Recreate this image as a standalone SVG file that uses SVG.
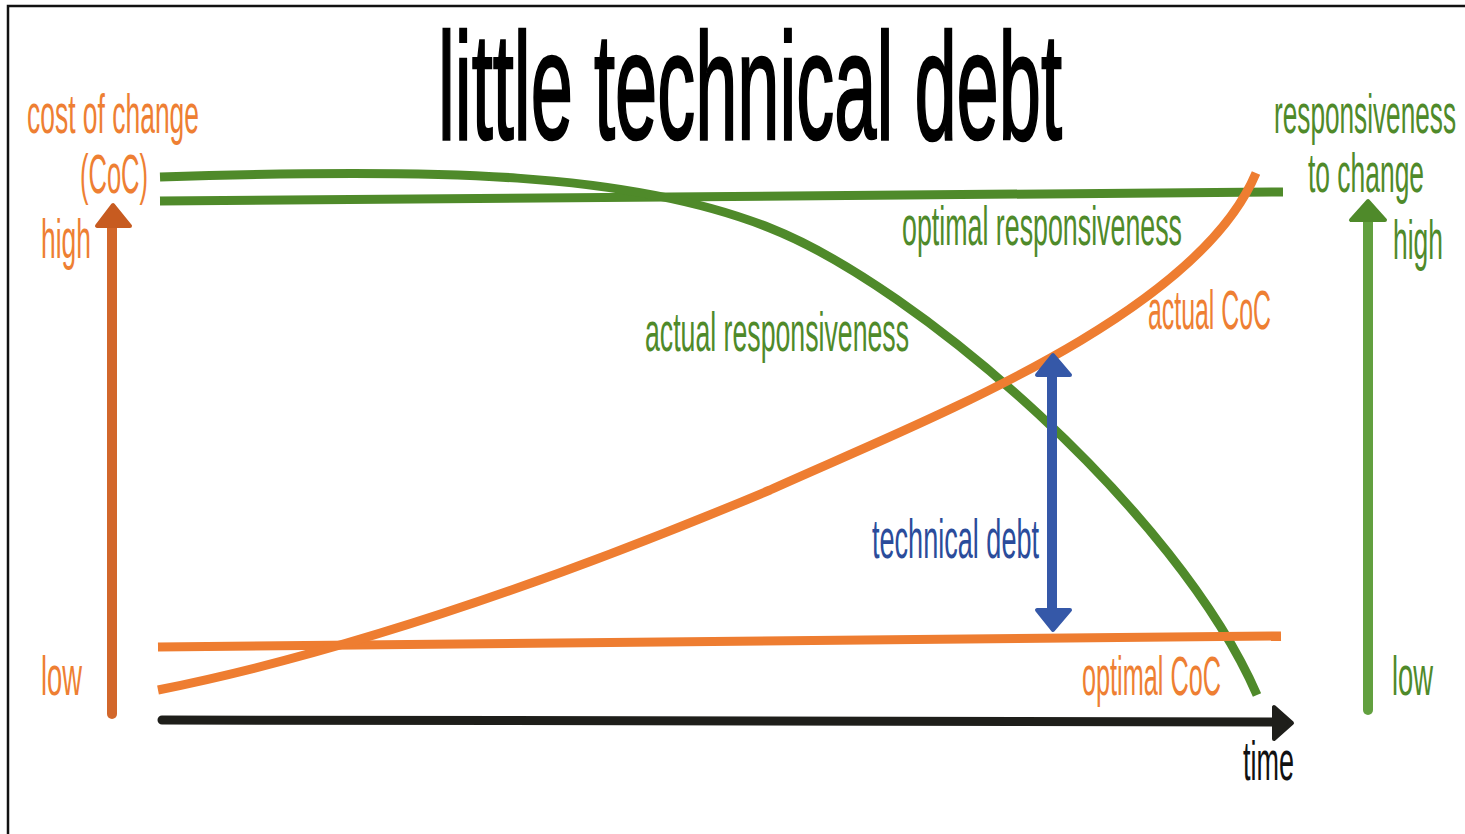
<svg xmlns="http://www.w3.org/2000/svg" width="1465" height="834" viewBox="0 0 1465 834">
<style>
  text { font-family: "Liberation Sans", Arial, sans-serif; font-size: 55px; }
  .title { font-size: 152px; fill: #000; stroke: #000; stroke-width: 2.5; }
  .or { fill: #EE7F33; }
  .gr { fill: #4F8A2A; }
  .bl { fill: #2B4C9B; }
  .bk { fill: #111; }
  .line { fill: none; stroke-width: 9; stroke-linecap: butt; }
  .oline { stroke: #EE7D31; }
  .gline { stroke: #4F8A2A; }
  .head { stroke-linejoin: round; stroke-width: 4; }
</style>
<rect x="0" y="0" width="1465" height="834" fill="#fff"/>
<path d="M8,840 L8,6 L1470,6" fill="none" stroke="#111" stroke-width="2.5"/>

<g id="title">
  <text class="title" x="438" y="139" textLength="624" lengthAdjust="spacingAndGlyphs">little technical debt</text>
</g>

<g id="connectors">
  <!-- optimal responsiveness -->
  <path class="line gline" d="M160,201 L1283,192"/>
  <!-- actual responsiveness -->
  <path class="line gline" d="M160,177 C440,168 630,172 770,228 C917,286 1177,511 1257,695"/>
  <!-- optimal CoC -->
  <path class="line oline" d="M158,647 L1281,636"/>
  <!-- actual CoC -->
  <path class="line oline" d="M158,690 C358,650 570,574 770,490 C920,422 1196,317 1256,173"/>
  <!-- time axis -->
  <path d="M162,720 L1276,722" fill="none" stroke="#1E1E1A" stroke-width="9" stroke-linecap="round"/>
  <polygon class="head" points="1292,723 1274,707 1274,739" fill="#1E1E1A" stroke="#1E1E1A"/>
  <!-- left CoC axis -->
  <path d="M112,714 L112,224" fill="none" stroke="#D2672B" stroke-width="10" stroke-linecap="round"/>
  <polygon class="head" points="113,205 97,226 130,226" fill="#C75B20" stroke="#C75B20"/>
  <!-- right responsiveness axis -->
  <path d="M1368,710 L1368,219" fill="none" stroke="#62A03F" stroke-width="10" stroke-linecap="round"/>
  <polygon class="head" points="1368,201 1351,220 1385,220" fill="#4F8A2A" stroke="#4F8A2A"/>
  <!-- technical debt double arrow -->
  <path d="M1052,372 L1052,612" fill="none" stroke="#3558A8" stroke-width="10"/>
  <polygon class="head" points="1053,355 1037,375 1070,375" fill="#3558A8" stroke="#3558A8"/>
  <polygon class="head" points="1053,630 1037,610 1070,610" fill="#3558A8" stroke="#3558A8"/>
</g>

<g id="coc-axis-label">
  <text class="or" x="27" y="133" textLength="172" lengthAdjust="spacingAndGlyphs">cost of change</text>
  <text class="or" x="80" y="193" textLength="68" lengthAdjust="spacingAndGlyphs">(CoC)</text>
</g>
<g id="coc-high"><text class="or" x="41" y="258" textLength="50" lengthAdjust="spacingAndGlyphs">high</text></g>
<g id="coc-low"><text class="or" x="41" y="695" textLength="41" lengthAdjust="spacingAndGlyphs">low</text></g>

<g id="resp-axis-label">
  <text class="gr" x="1274" y="133" textLength="182" lengthAdjust="spacingAndGlyphs">responsiveness</text>
  <text class="gr" x="1308" y="192" textLength="116" lengthAdjust="spacingAndGlyphs">to change</text>
</g>
<g id="resp-high"><text class="gr" x="1393" y="259" textLength="50" lengthAdjust="spacingAndGlyphs">high</text></g>
<g id="resp-low"><text class="gr" x="1392" y="695" textLength="41" lengthAdjust="spacingAndGlyphs">low</text></g>

<g id="optimal-responsiveness"><text class="gr" x="902" y="245" textLength="280" lengthAdjust="spacingAndGlyphs">optimal responsiveness</text></g>
<g id="actual-responsiveness"><text class="gr" x="645" y="351" textLength="264" lengthAdjust="spacingAndGlyphs">actual responsiveness</text></g>
<g id="actual-coc"><text class="or" x="1148" y="329" textLength="123" lengthAdjust="spacingAndGlyphs">actual CoC</text></g>
<g id="technical-debt"><text class="bl" x="872" y="558" textLength="167" lengthAdjust="spacingAndGlyphs">technical debt</text></g>
<g id="optimal-coc"><text class="or" x="1082" y="695" textLength="139" lengthAdjust="spacingAndGlyphs">optimal CoC</text></g>
<g id="time"><text class="bk" x="1243" y="780" textLength="51" lengthAdjust="spacingAndGlyphs">time</text></g>
</svg>
